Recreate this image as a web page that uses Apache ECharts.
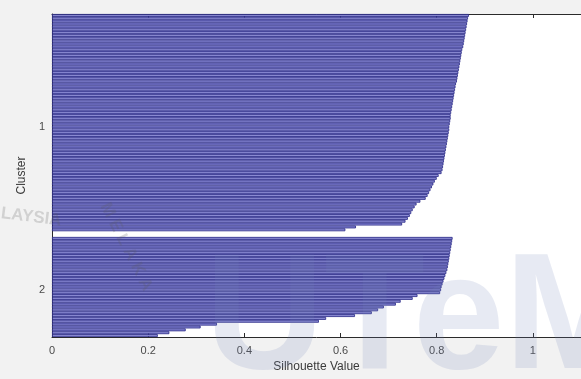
<!DOCTYPE html>
<html>
<head>
<meta charset="utf-8">
<style>
  html, body { margin: 0; padding: 0; background: #f2f2f2; }
  #chart { width: 581px; height: 379px; }
</style>
<script src="https://cdn.jsdelivr.net/npm/echarts@6/dist/echarts.min.js"></script>
</head>
<body>
<div id="chart"></div>
<script>
// Silhouette values per cluster, sorted in descending order
const cluster1Values = [
  0.867, 0.865, 0.864, 0.863, 0.862, 0.861, 0.860, 0.859, 0.858, 0.857,
  0.856, 0.855, 0.853, 0.852, 0.851, 0.850, 0.849, 0.848, 0.847, 0.846,
  0.845, 0.844, 0.843, 0.842, 0.840, 0.839, 0.838, 0.837, 0.836, 0.835,
  0.834, 0.833, 0.832, 0.831, 0.830, 0.829, 0.829, 0.828, 0.827, 0.826,
  0.826, 0.825, 0.824, 0.823, 0.822, 0.821, 0.820, 0.819, 0.818, 0.817,
  0.816, 0.815, 0.814, 0.813, 0.812, 0.810, 0.804, 0.800, 0.796, 0.793,
  0.790, 0.787, 0.784, 0.781, 0.777, 0.766, 0.758, 0.754, 0.750, 0.747,
  0.744, 0.740, 0.735, 0.728, 0.632, 0.610
];
const cluster2Values = [
  0.833, 0.832, 0.831, 0.830, 0.829, 0.828, 0.827, 0.826, 0.825, 0.824,
  0.823, 0.822, 0.820, 0.818, 0.816, 0.814, 0.812, 0.810, 0.809, 0.807,
  0.760, 0.750, 0.725, 0.715, 0.690, 0.678, 0.665, 0.630, 0.570, 0.555,
  0.343, 0.309, 0.278, 0.244, 0.220
];
const clusterNames = ['1', '2'];
const gapRows = 2;               // empty rows between clusters
const xTicks = [0, 0.2, 0.4, 0.6, 0.8, 1];
const xMax = 1.1;

// Build row list: cluster 1, gap, cluster 2
const groups = [cluster1Values, cluster2Values];
const rows = [];
const categories = [];
groups.forEach((vals, gi) => {
  if (gi > 0) {
    for (let k = 0; k < gapRows; k++) { rows.push('-'); categories.push(''); }
  }
  const start = rows.length;
  vals.forEach(v => { rows.push(v); categories.push(''); });
  // label sits at the middle row of each cluster
  const mid = start + Math.floor((vals.length + 2) / 2);
  categories[mid] = clusterNames[gi];
});

const chart = echarts.init(document.getElementById('chart'), null, { renderer: 'canvas' });
const textColor = '#4a4a4a';
const axisColor = '#2b2b2b';
const markFill = 'rgba(110, 128, 185, 0.17)';
const markText = 'rgba(90, 90, 90, 0.22)';
chart.setOption({
  animation: false,
  backgroundColor: '#f2f2f2',
  grid: {
    left: 52, top: 14, width: 532, height: 323,
    show: true, backgroundColor: '#ffffff', borderWidth: 0
  },
  xAxis: [
    {
      type: 'value', position: 'bottom', min: 0, max: xMax, interval: 0.2,
      name: 'Silhouette Value', nameLocation: 'middle', nameGap: 22,
      nameTextStyle: { fontFamily: 'Liberation Sans', fontSize: 12, color: '#3a3a3a' },
      axisLine: { show: true, lineStyle: { color: axisColor, width: 1 } },
      axisTick: { show: true, inside: true, length: 4, lineStyle: { color: axisColor } },
      axisLabel: {
        fontFamily: 'Liberation Sans', fontSize: 11, color: textColor, margin: 8,
        showMaxLabel: false,
        formatter: v => (xTicks.some(t => Math.abs(t - v) < 1e-9) ? String(+v.toFixed(1)) : '')
      },
      splitLine: { show: false }
    },
    {
      type: 'value', position: 'top', min: 0, max: xMax, interval: 0.2,
      axisLine: { show: true, lineStyle: { color: axisColor, width: 1 } },
      axisTick: { show: true, inside: true, length: 4, lineStyle: { color: axisColor } },
      axisLabel: { show: false },
      splitLine: { show: false }
    }
  ],
  yAxis: {
    type: 'category', inverse: true, data: categories,
    name: 'Cluster', nameLocation: 'middle', nameGap: 17, nameRotate: 90,
    nameTextStyle: { fontFamily: 'Liberation Sans', fontSize: 12, color: '#3a3a3a' },
    axisLine: { show: true, lineStyle: { color: axisColor, width: 1 } },
    axisTick: { show: false },
    axisLabel: { interval: 0, fontFamily: 'Liberation Sans', fontSize: 11, color: textColor, margin: 7 },
    splitLine: { show: false }
  },
  series: [{
    type: 'bar', xAxisIndex: 0, data: rows,
    barCategoryGap: 0,
    itemStyle: { color: '#8a8ad2', borderColor: '#262685', borderWidth: 0.8 }
  }],
  // faint institutional watermark over the lower part of the figure
  graphic: [
    {
      type: 'text', left: 205, top: 240, z: 100, silent: true,
      style: { text: 'UTeM', fill: markFill, font: 'bold 165px "Liberation Sans"' }
    },
    {
      type: 'text', left: 0, top: 205, z: 100, silent: true, rotation: -0.12,
      style: { text: 'LAYSIA', fill: markText, font: 'bold 17px "Liberation Sans"' }
    },
    {
      type: 'text', x: 112, y: 200, z: 100, silent: true, rotation: -1.1,
      style: { text: 'M E L A K A', fill: markText, font: 'bold 17px "Liberation Sans"' }
    }
  ]
});
</script>
</body>
</html>
